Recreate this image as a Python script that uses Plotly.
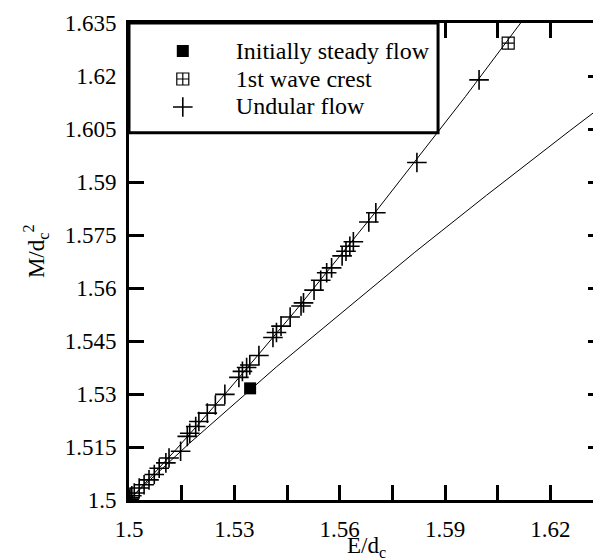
import plotly.graph_objects as go

# Theoretical curves (subcritical / supercritical branches)
upper_E = [1.5, 1.50351, 1.51322, 1.52807, 1.54722, 1.57, 1.59586, 1.62435]
upper_M = [1.5, 1.50363, 1.51409, 1.53082, 1.55333, 1.58125, 1.61423, 1.65199]
lower_E = [1.5, 1.50402, 1.51728, 1.54204, 1.58125, 1.60183, 1.62565, 1.63889]
lower_M = [1.5, 1.50388, 1.51611, 1.53772, 1.57, 1.58625, 1.60459, 1.61458]

steady_E = [1.5345]
steady_M = [1.5316]

crest_E = [1.6080]
crest_M = [1.6293]

undular_E = [1.5997, 1.5820, 1.5703, 1.5683, 1.5639, 1.5629, 1.5618, 1.5607, 1.5577,
             1.5563, 1.5546, 1.5527, 1.5497, 1.5490, 1.5459, 1.5433, 1.5420, 1.5410,
             1.5370, 1.5344, 1.5335, 1.5323, 1.5313, 1.5273, 1.5246, 1.5223, 1.5199,
             1.5190, 1.5173, 1.5166, 1.5147, 1.5114, 1.5105, 1.5086, 1.5072, 1.5057,
             1.5043, 1.5029, 1.5015, 1.5008, 1.5003, 1.5001]
undular_M = [1.6189, 1.5955, 1.5813, 1.5787, 1.5731, 1.5718, 1.5704, 1.5691, 1.5657,
             1.5643, 1.5622, 1.5594, 1.5558, 1.5549, 1.5518, 1.5492, 1.5474, 1.5460,
             1.5409, 1.5382, 1.5375, 1.5364, 1.5347, 1.5299, 1.5269, 1.5246, 1.5222,
             1.5208, 1.5189, 1.5180, 1.5138, 1.5119, 1.5105, 1.5090, 1.5072, 1.5057,
             1.5043, 1.5034, 1.5020, 1.5012, 1.5006, 1.5002]

x_tickvals = [1.5, 1.53, 1.56, 1.59, 1.62]
x_ticktext = ["1.5", "1.53", "1.56", "1.59", "1.62"]
y_tickvals = [1.5, 1.515, 1.53, 1.545, 1.56, 1.575, 1.59, 1.605, 1.62, 1.635]
y_ticktext = ["1.5", "1.515", "1.53", "1.545", "1.56", "1.575", "1.59", "1.605", "1.62", "1.635"]

legend_names = ["Initially steady flow", "1st wave crest", "Undular flow"]
x_title = "E/d<sub>c</sub>"
y_title = "M/d<sub>c</sub><sup>2</sup>"

FONT = "Liberation Serif"


def lg(name):
    # non-breaking spaces widen the gap between the legend symbol and its label
    return ('<span style="font-size:26.4px">' + "&nbsp;" * 5 + '</span>'
            '<span style="font-size:24px">' + name + '</span>')


fig = go.Figure()
fig.add_trace(go.Scatter(x=upper_E, y=upper_M, mode="lines",
                         line=dict(color="black", width=1), showlegend=False,
                         hoverinfo="skip"))
fig.add_trace(go.Scatter(x=lower_E, y=lower_M, mode="lines",
                         line=dict(color="black", width=1), showlegend=False,
                         hoverinfo="skip"))
fig.add_trace(go.Scatter(x=steady_E, y=steady_M, mode="markers", name=lg(legend_names[0]),
                         marker=dict(symbol="square", size=12, color="black")))
fig.add_trace(go.Scatter(x=crest_E, y=crest_M, mode="markers", name=lg(legend_names[1]),
                         marker=dict(symbol="square-cross-open", size=12, color="black",
                                     line=dict(width=1.2, color="black"))))
fig.add_trace(go.Scatter(x=undular_E, y=undular_M, mode="markers", name=lg(legend_names[2]),
                         marker=dict(symbol="cross-thin-open", size=14, color="black",
                                     line=dict(width=1.6, color="black"))))

axis_common = dict(
    showline=True, linewidth=3, linecolor="black", mirror="ticks",
    ticks="inside", ticklen=15, tickwidth=3, tickcolor="black",
    showgrid=False, zeroline=False, range=[1.5, 1.635],
    tickfont=dict(family=FONT, size=23, color="black"),
    tickmode="array",
)

fig.update_xaxes(tickvals=x_tickvals, ticktext=x_ticktext, ticklabelstandoff=6,
                 minor=dict(dtick=0.015, tick0=1.5, ticks="inside", ticklen=15,
                            tickwidth=3, tickcolor="black", showgrid=False),
                 **axis_common)
fig.update_yaxes(tickvals=y_tickvals, ticktext=y_ticktext, ticklabelstandoff=5,
                 **axis_common)

fig.add_shape(type="rect", xref="paper", yref="paper",
              x0=0, x1=0.652, y0=0.770, y1=1,
              line=dict(color="black", width=3), fillcolor="white", layer="above")

fig.add_annotation(text=x_title, xref="paper", yref="paper", x=0.5, y=-0.098,
                   xanchor="center", yanchor="middle", showarrow=False,
                   font=dict(family=FONT, size=23, color="black"))
fig.add_annotation(text=y_title, xref="paper", yref="paper", x=-0.197, y=0.521,
                   xanchor="center", yanchor="middle", showarrow=False, textangle=-90,
                   font=dict(family=FONT, size=23, color="black"))

fig.update_layout(
    width=601, height=560,
    margin=dict(l=121, r=3, t=14, b=68),
    paper_bgcolor="white", plot_bgcolor="white",
    font=dict(family=FONT, color="black"),
    showlegend=True,
    legend=dict(x=0.0713, y=0.981, xanchor="left", yanchor="top",
                bgcolor="rgba(0,0,0,0)", borderwidth=0,
                font=dict(family=FONT, size=19.2, color="black"),
                itemwidth=30, traceorder="normal"),
)

fig.write_html("out.html")
